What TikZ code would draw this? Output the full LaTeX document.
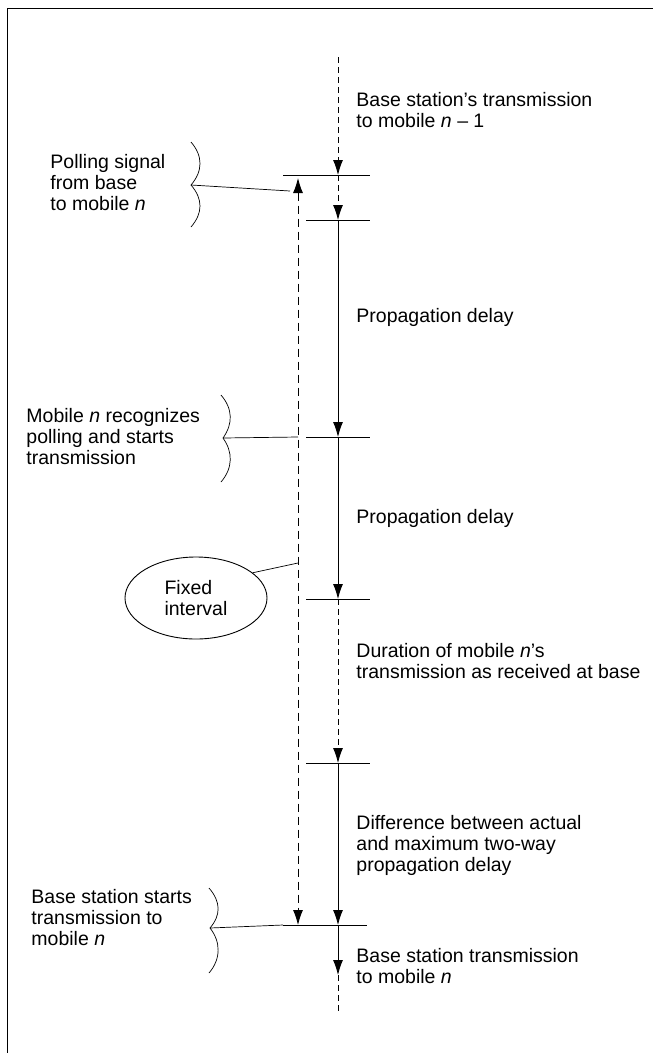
\documentclass[tikz,border=0pt]{standalone}
\usepackage{fontspec}
\setmainfont{Liberation Sans}
\usetikzlibrary{arrows.meta,positioning,shapes.geometric}

\begin{document}
\begin{tikzpicture}[
 x=1pt,y=-1pt,
 line width=0.9pt,
 lbl/.style={align=left,anchor=west,inner sep=0pt,font=\fontsize{19.5}{21}\selectfont},
 sig/.style={-{Latex[length=15pt,width=10pt]}},
 twosig/.style={{Latex[length=15pt,width=10pt]}-{Latex[length=15pt,width=10pt]}},
 dsh/.style={dash pattern=on 6pt off 4pt},
 ldsh/.style={dash pattern=on 8pt off 5pt},
 brc/.style={line width=0.7pt},
]
\useasboundingbox (0,0) rectangle (653,1053);
% frame
\draw[line width=1pt] (653,8) -- (7,8) -- (7,1053);

% time axis at the base station
\coordinate (top) at (338,57);
\coordinate (t1) at (338,175);
\coordinate (t2) at (338,220);
\coordinate (t3) at (338,437);
\coordinate (t4) at (338,599);
\coordinate (t5) at (338,763);
\coordinate (t6) at (338,925);
\coordinate (ba) at (338,975);
\coordinate (bot) at (338,1013);

\draw[sig,dsh] (top) -- (t1);
\draw[sig,dsh] (t1) -- (t2);
\draw[sig] (t2) -- (t3);
\draw[sig] (t3) -- (t4);
\draw[sig,dsh] (t4) -- (t5);
\draw[sig] (t5) -- (t6);
\draw[sig] (t6) -- (ba);
\draw[dsh] (ba) -- (bot);

% ticks
\draw ([xshift=-55pt]t1) -- ([xshift=32pt]t1);
\foreach \t in {t2,t3,t4,t5}
  \draw ([xshift=-32pt]\t) -- ([xshift=32pt]\t);
\draw ([xshift=-55pt]t6) -- ([xshift=29pt]t6);

% fixed interval
\coordinate (fa) at (298,178);
\coordinate (fb) at (298,925);
\draw[twosig,ldsh] (fa) -- (fb);

% labels on the right
\node[lbl] (bst) at (356,110) {Base station's transmission\\to mobile \textit{n} -- 1};
\node[lbl] (pd1) at (356,317) {Propagation delay};
\node[lbl] (pd2) at (356,518) {Propagation delay};
\node[lbl] (dur) at (356,661) {Duration of mobile \textit{n}'s\\transmission as received at base};
\node[lbl] (dif) at (356,845) {Difference between actual\\and maximum two-way\\propagation delay};
\node[lbl] (bsx) at (356,966) {Base station transmission\\to mobile \textit{n}};

% labels on the left
\node[lbl] (pol) at (50,183) {Polling signal\\from base\\to mobile \textit{n}};
\node[lbl] (rec) at (26,437) {Mobile \textit{n} recognizes\\polling and starts\\transmission};
\node[lbl] (bss) at (31,918) {Base station starts\\transmission to\\mobile \textit{n}};
\node[draw,ellipse,align=left,minimum width=142pt,minimum height=82pt,font=\fontsize{19.5}{21}\selectfont] (fix) at (196,598) {Fixed\\interval};

% braces and leaders
\draw[brc] (191,142) .. controls (203,156) and (203,171) .. (191,185) .. controls (203,199) and (203,213) .. (191,227);
\coordinate (pb) at (191,185);
\coordinate (pa) at (290,191);
\draw[brc] (pb) -- (pa);

\draw[brc] (221,395) .. controls (233,409) and (233,424) .. (223,438) .. controls (233,452) and (233,468) .. (221,482);
\coordinate (rb) at (223,438);
\coordinate (ra) at (298,437);
\draw[brc] (rb) -- (ra);

\draw[brc] (209,888) .. controls (221,902) and (221,915) .. (210,928) .. controls (221,942) and (221,959) .. (209,973);
\coordinate (sb) at (210,928);
\coordinate (sa) at (283,925);
\draw[brc] (sb) -- (sa);

\coordinate (fl) at (298,563);
\draw[brc] (fix.24) -- (fl);
\end{tikzpicture}
\end{document}
